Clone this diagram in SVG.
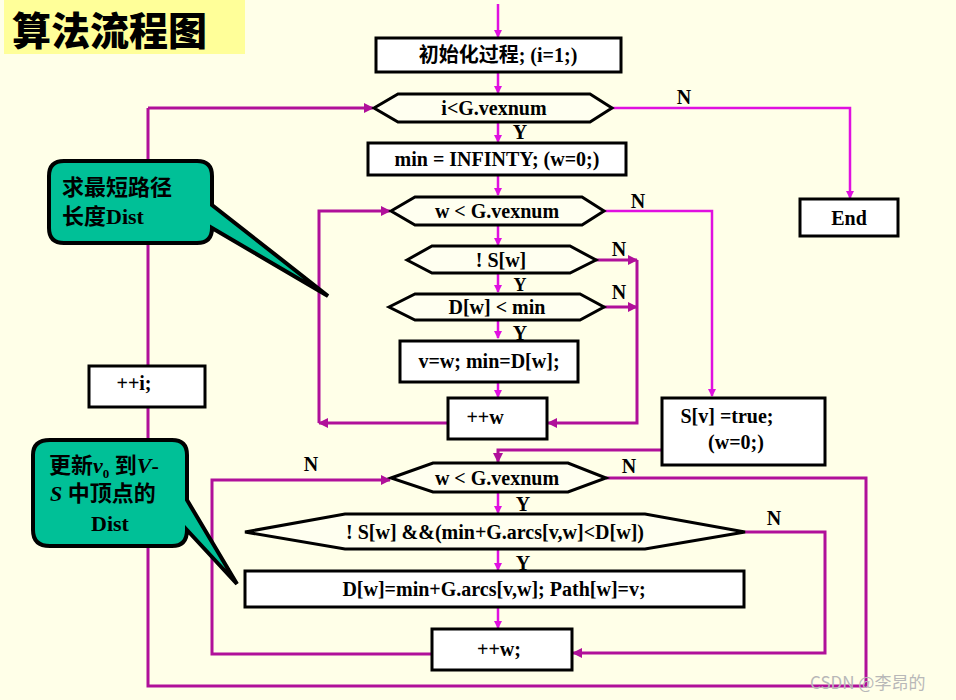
<svg xmlns="http://www.w3.org/2000/svg" width="956" height="700" viewBox="0 0 956 700">
<style>
.b{fill:#fff;stroke:#000;stroke-width:3}
.h{fill:#fffff0;stroke:#000;stroke-width:3}
.t{font-family:"Liberation Serif","Noto Sans CJK SC",serif;font-weight:bold;font-size:20px;text-anchor:middle;fill:#000}
.a{stroke:#e010e0;stroke-width:2.5;fill:none;marker-end:url(#ma)}
.l{stroke:#b0109a;stroke-width:3;fill:none}
.la{stroke:#b0109a;stroke-width:3;fill:none;marker-end:url(#mb)}
.c{fill:#00c097;stroke:#000;stroke-width:4}
.ct{font-family:"Liberation Serif","Noto Sans CJK SC",serif;font-weight:bold;font-size:22px;fill:#000}
</style>
<defs>
<marker id="ma" markerWidth="8" markerHeight="8" refX="7" refY="4" orient="auto" markerUnits="userSpaceOnUse"><path d="M0,0L8,4L0,8z" fill="#e010e0"/></marker>
<marker id="mb" markerWidth="10" markerHeight="10" refX="9" refY="5" orient="auto" markerUnits="userSpaceOnUse"><path d="M0,0L10,5L0,10z" fill="#b0109a"/></marker>
</defs>
<rect width="956" height="700" fill="#ffffe8"/>
<rect x="4" y="0" width="241" height="54" fill="#ffff99"/>
<text x="12" y="45" font-family="Noto Sans CJK SC,sans-serif" font-weight="900" font-size="39" fill="#000">算法流程图</text>
<g id="connectors">
<path class="a" d="M498,4V37"/>
<path class="a" d="M498,72V93"/>
<path class="a" d="M498,122V142"/>
<path class="a" d="M498,175V195"/>
<path class="a" d="M498,225V245"/>
<path class="a" d="M498,273V292"/>
<path class="a" d="M498,320V338"/>
<path class="a" d="M498,382V397"/>
<path class="a" d="M498,492V513"/>
<path class="a" d="M498,549V570"/>
<path class="a" d="M498,607V628"/>
<path class="a" d="M612,108H850V198"/>
<path class="a" d="M604,211H712V396"/>
<path class="la" d="M148,108H373"/>
<path class="l" d="M606,478H866V686H148V108"/>
<path class="la" d="M448,423H319"/>
<path class="la" d="M319,423V211H390"/>
<path class="la" d="M596,260H637"/>
<path class="la" d="M604,307H637"/>
<path class="la" d="M637,260V423H548"/>
<path class="la" d="M662,450H498V462"/>
<path class="la" d="M432,654H212V480H390"/>
<path class="la" d="M745,532H825V653H573"/>
<g class="t">
<text x="684" y="104">N</text><text x="520" y="139">Y</text>
<text x="638" y="208">N</text><text x="619" y="256">N</text>
<text x="520" y="291" font-size="18">Y</text><text x="619" y="299">N</text>
<text x="520" y="340">Y</text><text x="311" y="471">N</text>
<text x="629" y="473">N</text><text x="523" y="511">Y</text>
<text x="774" y="525">N</text><text x="523" y="570">Y</text>
</g>
</g>
<g id="init"><rect class="b" x="376" y="38" width="245" height="34"/><text class="t" x="498" y="62">初始化过程; (i=1;)</text></g>
<g id="cond_i"><path class="h" d="M374,108L398,94H590L612,108L590,122H398Z"/><text class="t" x="494" y="115">i&lt;G.vexnum</text></g>
<g id="min"><rect class="b" x="368" y="143" width="258" height="32"/><text class="t" x="497" y="166">min = INFINTY; (w=0;)</text></g>
<g id="end"><rect class="b" x="800" y="199" width="98" height="37"/><text class="t" x="849" y="225">End</text></g>
<g id="cond_w1"><path class="h" d="M391,211L415,197H582L604,211L582,225H415Z"/><text class="t" x="497" y="218">w &lt; G.vexnum</text></g>
<g id="cond_s"><path class="h" d="M407,260L432,246H570L596,260L570,273H432Z"/><text class="t" x="501" y="267">! S[w]</text></g>
<g id="cond_d"><path class="h" d="M389,307L415,294H580L604,307L580,320H415Z"/><text class="t" x="497" y="314">D[w] &lt; min</text></g>
<g id="setv"><rect class="b" x="400" y="341" width="178" height="41"/><text class="t" x="489" y="368">v=w; min=D[w];</text></g>
<g id="incw1"><rect class="b" x="448" y="398" width="99" height="41"/><text class="t" x="485" y="424">++w</text></g>
<g id="inci"><rect class="b" x="89" y="366" width="116" height="41"/><text class="t" x="134" y="390">++i;</text></g>
<g id="setS"><rect class="b" x="662" y="398" width="163" height="67"/><text class="t" x="727" y="423">S[v] =true;</text><text class="t" x="736" y="449">(w=0;)</text></g>
<g id="cond_w2"><path class="h" d="M391,478L433,463H568L606,478L568,492H433Z"/><text class="t" x="497" y="485">w &lt; G.vexnum</text></g>
<g id="cond_big"><path class="h" d="M245,532L345,514H645L745,532L645,549H345Z"/><text class="t" x="495" y="539">! S[w] &amp;&amp;(min+G.arcs[v,w]&lt;D[w])</text></g>
<g id="update"><rect class="b" x="245" y="571" width="499" height="36"/><text class="t" x="494" y="596">D[w]=min+G.arcs[v,w]; Path[w]=v;</text></g>
<g id="incw2"><rect class="b" x="432" y="629" width="140" height="41"/><text class="t" x="499" y="656">++w;</text></g>
<g id="callout1"><path class="c" d="M64,161H197Q212,161 212,176V205L328,296L212,228V228Q212,243 197,243H64Q49,243 49,228V176Q49,161 64,161Z"/><text class="ct" x="62" y="195">求最短路径</text><text class="ct" x="62" y="224">长度Dist</text></g>
<g id="callout2"><path class="c" d="M50,440H172Q187,440 187,455V500L237,584L187,530Q187,546 172,546H50Q33,546 33,530V455Q33,440 50,440Z"/><text class="ct" x="49" y="473">更新<tspan font-style="italic">v</tspan><tspan font-size="13" dy="5">0</tspan><tspan dy="-5"> 到</tspan><tspan font-style="italic">V</tspan>-</text><text class="ct" x="50" y="501"><tspan font-style="italic">S</tspan> 中顶点的</text><text class="ct" x="110" y="531" text-anchor="middle">Dist</text></g>
<text x="810" y="689" font-family="Noto Sans CJK SC,sans-serif" font-size="17" fill="#b8b8b8">CSDN @李昂的</text>
</svg>
